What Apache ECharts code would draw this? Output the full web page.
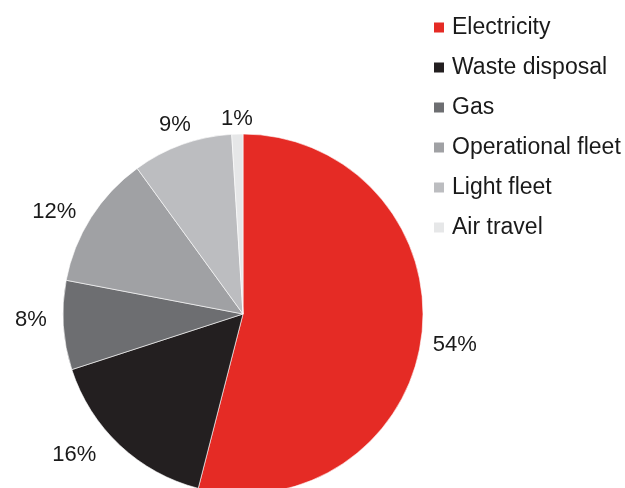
<!DOCTYPE html>
<html>
<head>
<meta charset="utf-8">
<script src="https://cdn.jsdelivr.net/npm/echarts@6/dist/echarts.min.js"></script>
<style>
  html, body { margin: 0; padding: 0; background: #fff; }
  #chart { width: 625px; height: 488px; }
</style>
</head>
<body>
<div id="chart"></div>
<script>
// Emission sources and their share of the total (%)
const categories = ['Electricity', 'Waste disposal', 'Gas', 'Operational fleet', 'Light fleet', 'Air travel'];
const shares = [54, 16, 8, 12, 9, 1];
const sliceColors = ['#e52b25', '#231f20', '#6d6e71', '#a0a1a4', '#bcbdc0', '#e6e7e8'];

// Pie geometry and label placement around the rim
const pieCenter = [243, 314];
const pieRadius = 180;
const labelGap = [11, 17, 16, 11, 7, 6];     // space between rim and label
const labelTurn = [1, 7, 2, -4, 0, 0];       // small angular nudge, degrees

const total = shares.reduce((a, b) => a + b, 0);
const midAngles = [];
let acc = 0;
shares.forEach(v => { midAngles.push((acc + v / 2) / total * 360); acc += v; });

const chart = echarts.init(document.getElementById('chart'));
chart.setOption({
  animation: false,
  textStyle: { fontFamily: 'Liberation Sans, Arial, sans-serif' },
  legend: {
    orient: 'vertical',
    left: 432,
    top: 16,
    padding: 0,
    itemWidth: 12,
    itemHeight: 12,
    itemGap: 17,
    icon: 'rect',
    selectedMode: false,
    textStyle: { fontSize: 23, color: '#1a1a1a', lineHeight: 23, padding: [0, 0, 0, 2],
                 fontFamily: 'Liberation Sans, Arial, sans-serif' },
    data: categories
  },
  series: [{
    type: 'pie',
    center: pieCenter,
    radius: pieRadius,
    startAngle: 90,
    clockwise: true,
    avoidLabelOverlap: false,
    itemStyle: { borderColor: '#ffffff', borderWidth: 0.6 },
    label: {
      show: true,
      position: 'outside',
      formatter: '{c}%',
      fontSize: 22,
      color: '#1a1a1a',
      fontFamily: 'Liberation Sans, Arial, sans-serif'
    },
    labelLine: { show: false, length: 0, length2: 0 },
    labelLayout: function (params) {
      const i = params.dataIndex;
      const a = (midAngles[i] + labelTurn[i]) * Math.PI / 180;
      const dx = Math.sin(a), dy = -Math.cos(a);
      const half = Math.abs(dx) * params.labelRect.width / 2 + Math.abs(dy) * 9;
      const d = pieRadius + labelGap[i] + half;
      return {
        x: pieCenter[0] + dx * d,
        y: pieCenter[1] + dy * d,
        align: 'center',
        verticalAlign: 'middle'
      };
    },
    emphasis: { disabled: true },
    data: categories.map((name, i) => ({
      name: name,
      value: shares[i],
      itemStyle: { color: sliceColors[i] }
    }))
  }]
});
</script>
</body>
</html>
